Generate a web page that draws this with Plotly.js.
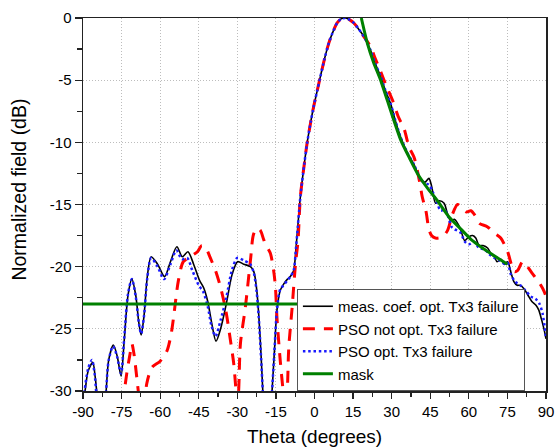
<!DOCTYPE html>
<html>
<head>
<meta charset="utf-8">
<script src="https://cdn.plot.ly/plotly-3.0.1.min.js"></script>
<style>html,body{margin:0;padding:0;background:#fff;}#chart{width:555px;height:447px;}</style>
</head>
<body>
<div id="chart"></div>
<script>
// Measured-coefficient pattern (black solid)
const measTheta = [-90,-89.2,-88,-86.2,-85.3,-84.6,-83.5,-82,-81,-80,-78.2,-76.7,-75.2,-74,-72.5,-71,-69.5,-68.3,-67.4,-66.3,-65,-63.5,-61,-58.3,-56,-53.5,-51.4,-49.2,-47,-44.7,-43.1,-41.5,-40,-38.3,-36.5,-34.3,-32,-29.9,-27.5,-24.9,-23.6,-22.5,-21.7,-20.8,-20.1,-19.3,-17.5,-16.5,-15.5,-14.6,-13.3,-12,-10.5,-9.4,-8.1,-7.2,-6.5,-5.5,-4,-2.9,-1.5,-0.3,1,2.3,4,5.6,7,8.8,10.5,12.1,13.7,15.3,17.2,19.2,21.8,23.5,25.7,27.5,29.6,31.5,33.5,36,38.7,41.3,43,44.5,45.5,47.1,48.5,50.4,51.5,52.9,54.5,56.6,58.4,60,61.5,62.7,64,65.5,67.3,68.7,69.9,71,72.5,73.8,75.1,76.3,77.5,78.8,80,81.5,83,84.5,86.1,87.2,88.2,89.2,90];
const measDb    = [-31,-30,-28.4,-27.7,-28.8,-30.2,-33,-33,-30,-27.5,-26.3,-27.2,-28.8,-26,-22.3,-21,-22.3,-24.5,-25.5,-24,-20.8,-19.2,-19.8,-20.8,-19.6,-18.4,-19.2,-18.8,-19.8,-21.1,-21.7,-22.8,-24.5,-26,-25,-23,-20.6,-19.6,-19.8,-20,-20.4,-21.8,-23.8,-27,-30,-33,-33,-30,-26.5,-23.5,-21.9,-21.4,-21,-20.8,-20.3,-18.5,-16.8,-14.4,-11.8,-10.1,-8.4,-7.1,-5.9,-4.7,-3.2,-2,-1.2,-0.4,-0.05,0,-0.15,-0.4,-0.9,-1.5,-2.6,-3.6,-4.7,-5.8,-6.9,-8.3,-9.6,-10.8,-11.8,-13,-13.2,-12.9,-13.5,-14.9,-14.7,-14.9,-15.6,-16.3,-16.2,-16.9,-17.9,-17.6,-17.5,-17.7,-18.3,-18.3,-18.5,-19,-19.2,-19.6,-19.4,-19.8,-19.6,-20.4,-21.2,-21.5,-21.5,-21.8,-22.3,-22.8,-23.1,-23.5,-24.2,-25,-25.8];

// PSO not optimised (red dashed)
const notOptTheta = [-90,-88.5,-86.6,-85,-83,-76,-74.5,-73,-71.7,-71,-70.2,-69.1,-68,-67,-66,-65.2,-63.2,-60,-57.4,-55.8,-54.8,-52.9,-51,-48.3,-45.5,-43.8,-42,-40.5,-38.5,-36.6,-34.5,-32.7,-31.4,-30.5,-30,-29.5,-28.8,-26.9,-24.9,-23.7,-22.3,-21,-19.8,-19.1,-17.2,-15.9,-15.2,-14.6,-13.3,-12.2,-11.4,-10.6,-10,-8.7,-7.4,-6.4,-5.5,-4,-2.9,-1.5,-0.3,1,2.3,4,5.6,7,8.8,10.5,12.1,13.7,15.3,17.2,19.2,21.8,23.5,25.7,28,30.3,32.5,34.8,36.8,38.7,40.7,41.9,43.3,44.5,45.5,47,49.7,51.7,53.6,55.6,57,59,60.8,62.5,64,67.3,69.9,72.4,75.1,76.5,77.8,79,80.9,82.8,84.5,86.7,88,89.3,90];
const notOptDb    = [-33,-31,-29.9,-31,-34,-34,-31,-28.6,-27,-26.2,-27,-28.9,-31,-33,-31,-29.4,-28.1,-27.6,-26.8,-25.5,-24.1,-21.1,-19.6,-19.2,-18.8,-18.3,-18.6,-19.3,-20.3,-21.6,-23.5,-25.9,-27.8,-30,-31,-30,-26.2,-23.3,-19.5,-17.4,-16.9,-17.1,-17.8,-18.2,-18.9,-20.3,-21.6,-24.1,-27.6,-30,-31.5,-30,-26.5,-23.3,-19.8,-17.9,-14.4,-11.8,-10.1,-8.4,-7.1,-5.9,-4.7,-3.2,-2,-1.2,-0.4,-0.05,0,-0.15,-0.4,-0.9,-1.5,-2.3,-3.2,-4.3,-5.5,-6.6,-7.9,-8.9,-10.4,-11.2,-13,-14.4,-15.5,-17,-17.5,-17.7,-17.6,-17.1,-15.8,-15,-15.2,-15.6,-15.5,-15.9,-16.5,-16.8,-17.3,-17.7,-18.8,-19.8,-20.4,-20.3,-19.6,-20,-20.5,-21.1,-21.5,-22,-22.4];

// PSO optimised (blue dotted)
const optTheta = [-90,-89.4,-88,-86.5,-85.5,-84.7,-83.5,-82,-81,-80,-78.3,-76.8,-75.2,-74,-72.5,-71,-69.5,-68.3,-67.4,-66.3,-65,-63.5,-61,-58.5,-56,-53.7,-51.5,-49.5,-47.5,-45,-43.3,-41.5,-40,-38.5,-36.5,-34.3,-32,-30,-27.5,-25,-23.6,-22.5,-21.7,-20.8,-20.1,-19.3,-17.5,-16.5,-15.5,-14.6,-13.3,-12,-10.5,-9.4,-8.1,-7.2,-6.5,-5.5,-4,-2.9,-1.5,-0.3,1,2.3,4,5.6,7,8.8,10.5,12.1,13.7,15.3,17.2,19.2,21.8,23.5,25.7,27.5,29.6,31.5,33.5,36,38.7,41.3,43,44.5,46,47.5,49.1,50.5,52,53.3,54.5,56.5,58.5,60,62,64,66,68,70,72,74,75.1,76.3,78,80,82,84.1,86,87.5,88.7,90];
const optDb    = [-31,-30,-28.2,-27.5,-28.6,-30.5,-33,-33,-30,-27.5,-26.4,-27.2,-28.6,-25.8,-22.2,-21,-22.4,-24.5,-25.4,-24,-20.9,-19.3,-20,-21,-19.8,-18.7,-19.4,-19.3,-20.3,-21.5,-22,-23.2,-24.8,-25.6,-24.3,-22.5,-20.2,-19.3,-19.5,-19.8,-20.5,-22,-24,-27.2,-30,-33,-33,-30,-26.5,-23.5,-21.8,-21.5,-21.1,-20.8,-20.3,-18.5,-16.8,-14.4,-11.8,-10.1,-8.4,-7.1,-5.9,-4.7,-3.2,-2,-1.2,-0.4,-0.05,0,-0.15,-0.4,-0.9,-1.5,-2.6,-3.6,-4.7,-5.8,-6.9,-8.3,-9.6,-10.8,-11.8,-13,-13.3,-13.4,-14,-14.8,-15.5,-15.4,-16,-16.8,-17,-17.2,-18,-18.2,-18,-18.5,-18.6,-19,-19.3,-19.5,-19.8,-19.7,-20.6,-21.2,-21.5,-21.9,-22.4,-22.6,-23,-23.8,-25.7];

// Mask (green)
const maskTheta = [-90,-5.5,null,18.2,20.5,23,25.7,30,33.5,37,40,44,47.8,52.3,57,60.8,66,71.2,75];
const maskDb    = [-23,-23,null,0,-2,-3.6,-5,-7.7,-9.8,-11.3,-12.5,-13.7,-14.7,-16,-17,-17.8,-18.6,-19.3,-19.8];

const xTicks = [-90,-75,-60,-45,-30,-15,0,15,30,45,60,75,90];
const yTicks = [0,-5,-10,-15,-20,-25,-30];

const traces = [
  {x: measTheta, y: measDb, name: 'meas. coef. opt. Tx3 failure', mode: 'lines',
   line: {color: '#000000', width: 1.6, shape: 'spline', smoothing: 0.8}},
  {x: notOptTheta, y: notOptDb, name: 'PSO not opt. Tx3 failure', mode: 'lines',
   line: {color: '#ff0000', width: 3, dash: '12px,9px', shape: 'spline', smoothing: 0.8}},
  {x: optTheta, y: optDb, name: 'PSO opt. Tx3 failure', mode: 'lines',
   line: {color: '#1a1aff', width: 2.5, dash: '2.5px,2.8px', shape: 'spline', smoothing: 0.8}},
  {x: maskTheta, y: maskDb, name: 'mask', mode: 'lines', connectgaps: false,
   line: {color: '#008000', width: 3, shape: 'spline', smoothing: 0.6}}
];

const font = {family: 'Liberation Sans, Arial, sans-serif', color: '#000'};

const layout = {
  width: 555, height: 447,
  margin: {l: 83, r: 9, t: 18, b: 56},
  paper_bgcolor: '#fff', plot_bgcolor: '#fff',
  font: Object.assign({size: 15}, font),
  showlegend: true,
  legend: {
    x: 0.462, y: 0, xanchor: 'left', yanchor: 'bottom',
    bgcolor: '#fff', bordercolor: '#555', borderwidth: 1,
    font: Object.assign({size: 15}, font),
    tracegroupgap: 0, itemwidth: 30
  },
  xaxis: {
    range: [-90, 90], tickvals: xTicks, ticktext: xTicks.map(String),
    showgrid: true, gridcolor: '#bdbdbd', griddash: '1px,2px', gridwidth: 1,
    zeroline: false, showline: true, mirror: true, linecolor: '#222', linewidth: 1.5,
    ticks: 'outside', ticklen: 6, tickwidth: 1.2, tickcolor: '#222',
    minor: {dtick: 7.5, tick0: -90, ticks: 'outside', ticklen: 4, tickwidth: 1.2, tickcolor: '#222', showgrid: false},
    tickfont: Object.assign({size: 15}, font),
    title: {text: 'Theta (degrees)', font: Object.assign({size: 19}, font), standoff: 14}
  },
  yaxis: {
    range: [-30, 0], tickvals: yTicks, ticktext: yTicks.map(String),
    showgrid: true, gridcolor: '#bdbdbd', griddash: '1px,2px', gridwidth: 1,
    zeroline: false, showline: true, mirror: true, linecolor: '#222', linewidth: 1.5,
    ticks: 'outside', ticklen: 7, tickwidth: 1.2, tickcolor: '#222',
    minor: {dtick: 2.5, tick0: 0, ticks: 'outside', ticklen: 5, tickwidth: 1.2, tickcolor: '#222', showgrid: false},
    tickfont: Object.assign({size: 15}, font),
    title: {text: ''}
  },
  annotations: [{
    text: 'Normalized field (dB)', textangle: -90, showarrow: false,
    xref: 'paper', yref: 'paper', x: -0.139, y: 0.539, xanchor: 'center', yanchor: 'middle',
    font: Object.assign({size: 19.5}, font)
  }]
};

Plotly.newPlot('chart', traces, layout, {staticPlot: true, displayModeBar: false});
</script>
</body>
</html>
